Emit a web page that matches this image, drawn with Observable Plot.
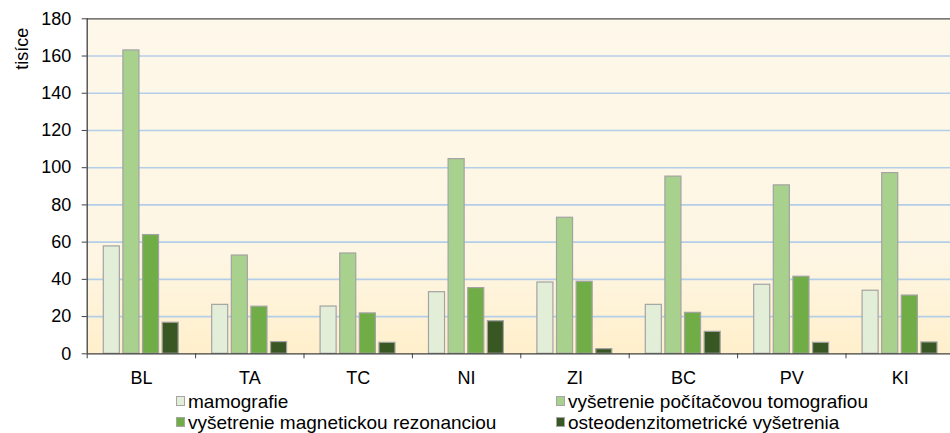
<!DOCTYPE html>
<html><head><meta charset="utf-8">
<script src="https://cdn.jsdelivr.net/npm/d3@7"></script>
<script src="https://cdn.jsdelivr.net/npm/@observablehq/plot@0.6"></script>
<style>
body{margin:0;background:#fff;font-family:"Liberation Sans",Arial,sans-serif;overflow:hidden;}
#legend{position:relative;height:43px;font-size:19px;color:#000;width:950px}
.item{position:absolute;display:flex;align-items:center;white-space:nowrap;height:21px;line-height:21px}
.sw{width:7px;height:8px;border:1px solid #a6a6a6;margin-right:3px;box-sizing:content-box}
</style></head><body><div id="chart"></div><div id="legend"></div>
<script>
const categories = ["BL","TA","TC","NI","ZI","BC","PV","KI"];
const series = ["mamografie","vyšetrenie počítačovou tomografiou","vyšetrenie magnetickou rezonanciou","osteodenzitometrické vyšetrenia"];
const mamografie = [57.7,26.3,25.4,33.1,38.3,26.3,37.1,33.9];
const tomografia = [163,52.8,53.9,104.6,73.1,95.2,90.5,97.1];
const rezonancia = [63.8,25.3,21.7,35.3,38.7,22,41.4,31.3];
const osteo = [16.7,6.3,5.9,17.5,2.5,11.8,5.9,6.1];
const yTicks = [0,20,40,60,80,100,120,140,160,180];
const colors = ["#e3eed9","#a9d18e","#70ad47","#385723"];
const yLabel = "tisíce";

const valuesBySeries = [mamografie, tomografia, rezonancia, osteo];
const data = [];
categories.forEach((cat, i) => {
  series.forEach((s, k) => data.push({cat, ci: i, series: s, k, value: valuesBySeries[k][i]}));
});
// group layout within each category band (fractions of the band)
const groupPad = 0.153, step = 0.181, barW = 0.148;

const defs = () => {
  const d = d3.create("svg:defs");
  const lg = d.append("linearGradient").attr("id","bgGrad").attr("x1",0).attr("y1",0).attr("x2",0).attr("y2",1);
  lg.append("stop").attr("offset","0").attr("stop-color","#fef8ea");
  lg.append("stop").attr("offset","0.72").attr("stop-color","#fef6e3");
  lg.append("stop").attr("offset","1").attr("stop-color","#ffefcb");
  return d.node();
};

const chart = Plot.plot({
  width: 950, height: 390,
  marginLeft: 86.7, marginTop: 18.3, marginBottom: 36.7, marginRight: 0,
  x: {domain: [0, 8], range: [86.7, 953.9]},
  y: {domain: [0, 180]},
  color: {domain: series, range: colors},
  style: {fontFamily: '"Liberation Sans", Arial, sans-serif', fontSize: "18px", color: "#000", background: "transparent", overflow: "visible"},
  marks: [
    defs,
    Plot.frame({fill: "url(#bgGrad)", stroke: null}),
    Plot.ruleY(yTicks.filter(d => d > 0 && d < 180), {stroke: "#b3cee9", strokeWidth: 1.6}),
    Plot.ruleY([180], {stroke: "#4d4d4d", strokeWidth: 1.2}),
    Plot.rectY(data, {
      x1: d => d.ci + groupPad + d.k * step,
      x2: d => d.ci + groupPad + d.k * step + barW,
      y: "value",
      fill: "series",
      stroke: "#a3a3a3",
      strokeWidth: 1.2
    }),
    Plot.ruleY([0], {stroke: "#404040", strokeWidth: 1.3}),
    Plot.ruleX([0], {stroke: "#404040", strokeWidth: 1.3}),
    Plot.axisY({ticks: yTicks, tickSize: 5, tickPadding: 11, stroke: "#404040", label: null, tickFormat: d => String(d)}),
    Plot.axisX({ticks: d3.range(8), tickSize: 5, tickFormat: () => "", stroke: "#404040", label: null}),
    Plot.axisX({ticks: d3.range(8).map(i => i + 0.5), tickSize: 0, tickPadding: 17, tickFormat: d => categories[Math.floor(d)], label: null}),
    Plot.text([yLabel], {frameAnchor: "top-left", rotate: -90, dx: -64.7, dy: 30, textAnchor: "middle", lineAnchor: "middle", fontSize: 18})
  ]
});
document.getElementById("chart").appendChild(chart);

const legend = document.getElementById("legend");
const pos = [[176, 0.5], [556, 0.5], [176, 21.5], [556, 21.5]];
series.forEach((s, k) => {
  const it = document.createElement("div");
  it.className = "item";
  it.style.left = pos[k][0] + "px";
  it.style.top = pos[k][1] + "px";
  const sw = document.createElement("span");
  sw.className = "sw";
  sw.style.background = colors[k];
  const t = document.createElement("span");
  t.textContent = s;
  it.appendChild(sw); it.appendChild(t);
  legend.appendChild(it);
});
</script>
</body></html>
